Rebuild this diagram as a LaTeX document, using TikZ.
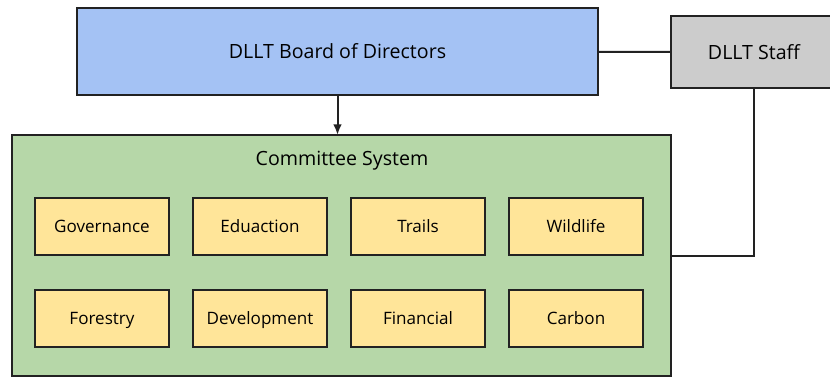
\documentclass[tikz,border=0pt]{standalone}
\usepackage{fontspec}
\setmainfont{Open Sans}
\usepackage{tikz}
\usetikzlibrary{arrows,arrows.meta,shapes,positioning,calc}
\definecolor{boardblue}{HTML}{A4C2F4}
\definecolor{staffgrey}{HTML}{CCCCCC}
\definecolor{commgreen}{HTML}{B6D7A8}
\definecolor{commyellow}{HTML}{FFE599}
\definecolor{edge}{HTML}{222222}
\tikzset{ % Box and line styles for the org chart
    box/.style={rectangle, draw=edge, line width=1.6pt, text centered, inner sep=0pt, outer sep=0pt},
    big/.style={font=\fontsize{14.7}{17}\selectfont, text height=12pt, text depth=1.5pt},
    small/.style={font=\fontsize{12.8}{15}\selectfont, text height=10.5pt, text depth=1.5pt},
    board/.style={box, big, fill=boardblue, minimum width=390.75pt, minimum height=65.25pt},
    staff/.style={box, big, fill=staffgrey, minimum width=124.5pt, minimum height=54pt},
    system/.style={box, fill=commgreen, minimum width=494.25pt, minimum height=180.75pt},
    cbox/.style={box, small, fill=commyellow, minimum width=100.5pt, minimum height=42.75pt},
    line/.style={draw=edge, line width=1.5pt},
    arrow/.style={line, -{Latex[length=8pt,width=6.5pt]}}
}

\begin{document}
\begin{tikzpicture}[x=0.75pt, y=-0.75pt, node distance=18pt and 26.25pt]
	\useasboundingbox (0,0) rectangle (830,376);
	%Nodes
	\node[board]   (board)   at (337.5,51.5) {DLLT Board of Directors};
	\node[staff]   (staff)   at (754,52)     {DLLT Staff};
	\node[system]  (cs)      at (341.5,255.5) {};
	\node[big]     (cstitle) at (342,158)    {Committee System};
	\node[cbox]    (gov)     at (102,226.5)  {Governance};
	\node[cbox, right=18pt of gov]   (edu)   {Eduaction};
	\node[cbox, right=18pt of edu]   (trails) {Trails};
	\node[cbox, right=18pt of trails] (wild)  {Wildlife};
	\node[cbox, below=26.25pt of gov]    (forest) {Forestry};
	\node[cbox, right=18pt of forest] (dev)    {Development};
	\node[cbox, right=18pt of dev]    (fin)    {Financial};
	\node[cbox, right=18pt of fin]    (carbon) {Carbon};
	%Edges
	\draw [line] (board) -- (staff);
	\draw [arrow] (board.south) -- (board.south |- cs.north);
	\draw [line] (staff.south) |- (cs.east);
\end{tikzpicture}
\end{document}
